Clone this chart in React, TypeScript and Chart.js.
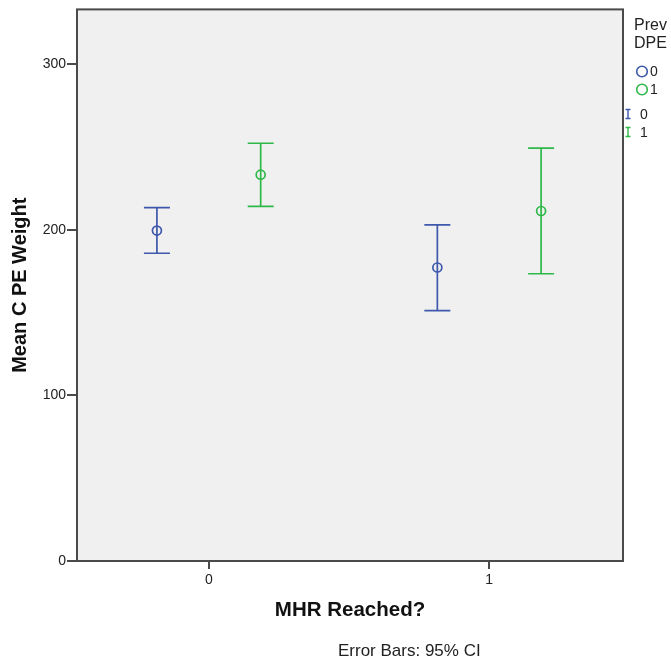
import React, { useEffect, useRef } from "react";
import { Chart, registerables } from "chart.js";

Chart.register(...registerables);

// ---- data ----
const categories = ["0", "1"];
const categoryPositions = [0, 1];
const seriesNames = ["0", "1"];
const seriesOffsets = [-0.185, 0.185];
const seriesColors = ["#3E58AC", "#2EB848"];
const meansDPE0 = [199.5, 177.2];
const lowerDPE0 = [185.8, 151.1];
const upperDPE0 = [213.3, 202.9];
const meansDPE1 = [233.2, 211.3];
const lowerDPE1 = [214.1, 173.4];
const upperDPE1 = [252.2, 249.2];
const yTicks = [0, 100, 200, 300];
const yMax = 333;
const xMin = -0.47;
const xMax = 1.477;

const xTitle = "MHR Reached?";
const yTitle = "Mean C PE Weight";
const legendTitle = ["Prev", "DPE"];
const footnote = "Error Bars: 95% CI";

const FONT = "'Liberation Sans', Arial, sans-serif";
const FRAME = "#4a4a4a";

const seriesMeans = [meansDPE0, meansDPE1];
const seriesLower = [lowerDPE0, lowerDPE1];
const seriesUpper = [upperDPE0, upperDPE1];

const backgroundPlugin = {
  id: "bgFrame",
  beforeDraw(chart: any) {
    const { ctx, chartArea: a } = chart;
    ctx.save();
    ctx.fillStyle = "#f0f0f0";
    ctx.fillRect(a.left, a.top, a.right - a.left, a.bottom - a.top);
    ctx.restore();
  },
  afterDraw(chart: any) {
    const { ctx, chartArea: a } = chart;
    ctx.save();
    ctx.strokeStyle = FRAME;
    ctx.lineWidth = 2;
    ctx.strokeRect(a.left, a.top, a.right - a.left, a.bottom - a.top);
    ctx.restore();
  },
};

const errorBarPlugin = {
  id: "errorBars",
  beforeDatasetsDraw(chart: any) {
    const { ctx } = chart;
    const xs = chart.scales.x;
    const ys = chart.scales.y;
    ctx.save();
    chart.data.datasets.forEach((ds: any) => {
      ctx.strokeStyle = ds.borderColor;
      ctx.lineWidth = 1.7;
      ds.data.forEach((p: any) => {
        const x = xs.getPixelForValue(p.x);
        const yl = ys.getPixelForValue(p.lo);
        const yh = ys.getPixelForValue(p.hi);
        const cap = 13;
        ctx.beginPath();
        ctx.moveTo(x, yl);
        ctx.lineTo(x, yh);
        ctx.moveTo(x - cap, yl);
        ctx.lineTo(x + cap, yl);
        ctx.moveTo(x - cap, yh);
        ctx.lineTo(x + cap, yh);
        ctx.stroke();
      });
    });
    ctx.restore();
  },
};

const legendPlugin = {
  id: "customLegend",
  afterDraw(chart: any) {
    const { ctx } = chart;
    ctx.save();
    ctx.fillStyle = "#222";
    ctx.textBaseline = "middle";
    ctx.textAlign = "left";
    ctx.font = `16px ${FONT}`;
    ctx.fillText(legendTitle[0], 634, 26);
    ctx.fillText(legendTitle[1], 634, 44);
    ctx.font = `14px ${FONT}`;
    seriesNames.forEach((name, i) => {
      const y = 71.5 + i * 18;
      ctx.strokeStyle = seriesColors[i];
      ctx.lineWidth = 1.6;
      ctx.beginPath();
      ctx.arc(642, y, 5.3, 0, Math.PI * 2);
      ctx.stroke();
      ctx.fillStyle = "#222";
      ctx.fillText(name, 650, y + 1);
    });
    seriesNames.forEach((name, i) => {
      const y = 114 + i * 18;
      ctx.strokeStyle = seriesColors[i];
      ctx.lineWidth = 1.4;
      ctx.beginPath();
      ctx.moveTo(628, y - 4.5);
      ctx.lineTo(628, y + 4.5);
      ctx.moveTo(625.5, y - 4.5);
      ctx.lineTo(630.5, y - 4.5);
      ctx.moveTo(625.5, y + 4.5);
      ctx.lineTo(630.5, y + 4.5);
      ctx.stroke();
      ctx.fillStyle = "#222";
      ctx.fillText(name, 640, y + 1);
    });
    ctx.font = `17px ${FONT}`;
    ctx.fillText(footnote, 338, 651);
    ctx.restore();
  },
};

export default function App() {
  const ref = useRef<HTMLCanvasElement | null>(null);

  useEffect(() => {
    if (!ref.current) return;
    const datasets = seriesNames.map((name, s) => ({
      label: name,
      data: categoryPositions.map((c, i) => ({
        x: c + seriesOffsets[s],
        y: seriesMeans[s][i],
        lo: seriesLower[s][i],
        hi: seriesUpper[s][i],
      })),
      borderColor: seriesColors[s],
      backgroundColor: "rgba(0,0,0,0)",
      pointRadius: 4.5,
      pointBorderWidth: 1.7,
      pointStyle: "circle",
      showLine: false,
    }));

    const chart = new Chart(ref.current, {
      type: "scatter",
      data: { datasets } as any,
      plugins: [backgroundPlugin, errorBarPlugin, legendPlugin],
      options: {
        responsive: false,
        animation: false,
        devicePixelRatio: 1,
        events: [],
        layout: { padding: { left: 0, top: 7, right: 48, bottom: 0 } },
        plugins: {
          legend: { display: false },
          tooltip: { enabled: false },
          title: { display: false },
        },
        scales: {
          x: {
            type: "linear",
            min: xMin,
            max: xMax,
            afterFit(scale: any) {
              scale.height = 103;
            },
            afterBuildTicks(scale: any) {
              scale.ticks = categoryPositions.map((v) => ({ value: v }));
            },
            ticks: {
              autoSkip: false,
              maxRotation: 0,
              padding: 3,
              color: "#222",
              font: { family: FONT, size: 14 },
              callback: (_v: any, i: number) => categories[i],
            },
            grid: {
              display: true,
              drawOnChartArea: false,
              drawTicks: true,
              tickLength: 8,
              tickColor: FRAME,
              lineWidth: 2,
            },
            border: { display: false },
            title: {
              display: true,
              text: xTitle,
              color: "#111",
              font: { family: FONT, size: 20.5, weight: "bold" },
              padding: { top: 0, bottom: 41 },
            },
          },
          y: {
            type: "linear",
            min: 0,
            max: yMax,
            afterFit(scale: any) {
              scale.width = 77;
            },
            afterBuildTicks(scale: any) {
              scale.ticks = yTicks.map((v) => ({ value: v }));
            },
            ticks: {
              autoSkip: false,
              padding: 1,
              color: "#222",
              font: { family: FONT, size: 14 },
            },
            grid: {
              display: true,
              drawOnChartArea: false,
              drawTicks: true,
              tickLength: 10,
              tickColor: FRAME,
              lineWidth: 2,
            },
            border: { display: false },
            title: {
              display: true,
              text: yTitle,
              color: "#111",
              font: { family: FONT, size: 20, weight: "bold" },
              padding: { top: 8, bottom: 0 },
            },
          },
        },
      } as any,
    });
    return () => chart.destroy();
  }, []);

  return (
    <div style={{ position: "absolute", left: 0, top: 0, width: 671, height: 664 }}>
      <canvas ref={ref} width={671} height={664} style={{ display: "block" }} />
    </div>
  );
}
